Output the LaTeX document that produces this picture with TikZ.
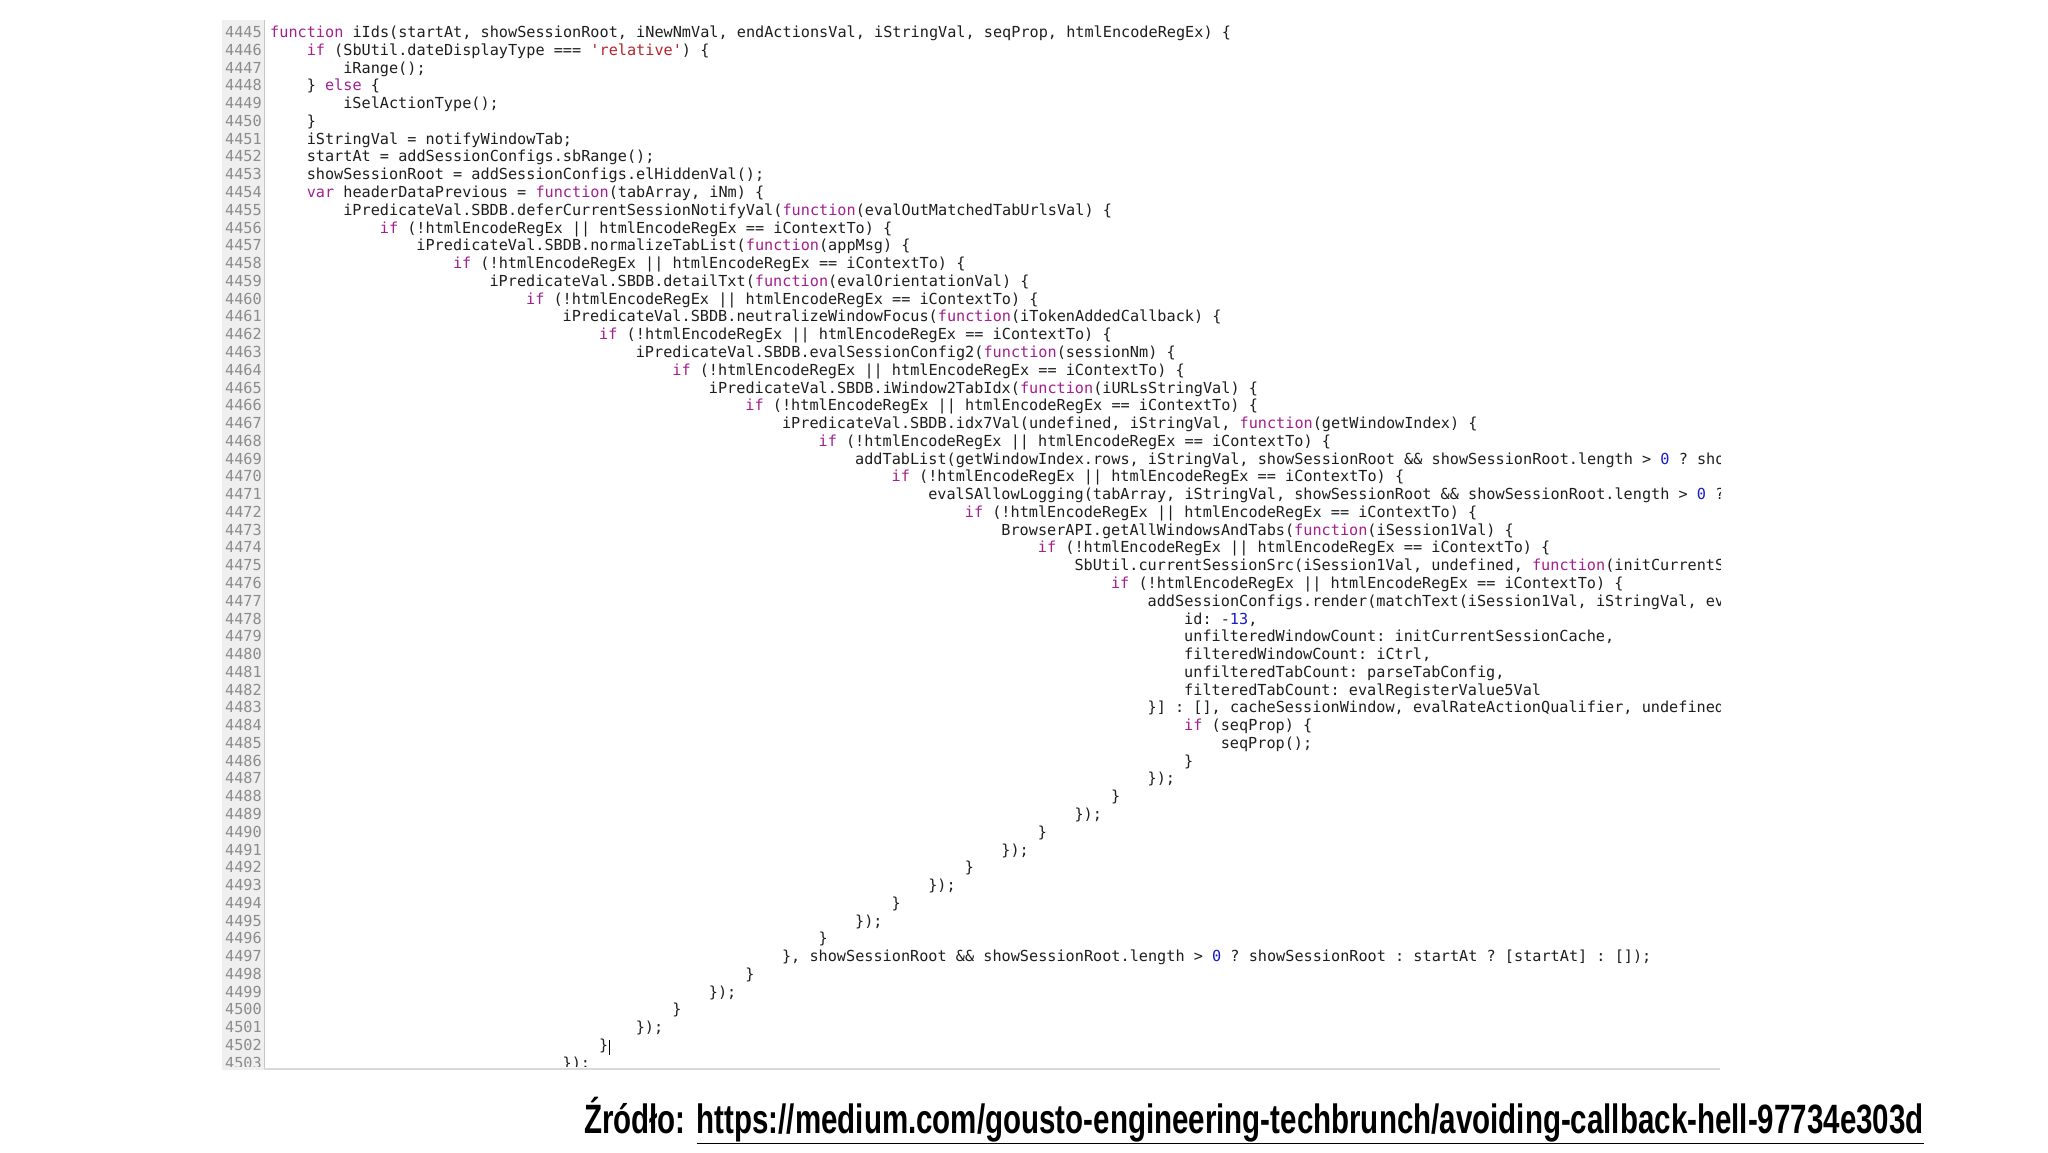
\documentclass[tikz,border=0pt]{standalone}
\usepackage{fontspec}
\setmonofont{DejaVu Sans Mono}
\setsansfont{Liberation Sans}
\definecolor{kw}{HTML}{A3208F}
\definecolor{str}{HTML}{B8242B}
\definecolor{num}{HTML}{1A1AC8}
\definecolor{lnum}{HTML}{8C8C8C}
\definecolor{gut}{HTML}{EFEFEF}
\definecolor{codetxt}{HTML}{1E1E1E}
\newcommand{\Kw}[1]{\textcolor{kw}{#1}}
\newcommand{\Nm}[1]{\textcolor{num}{#1}}
\newcommand{\Str}[1]{\textcolor{str}{#1}}
\newcounter{ln}
\newcommand{\cl}[2]{%
  \pgfmathsetmacro{\yy}{37.6+\value{ln}*17.77}%
  \pgfmathtruncatemacro{\lnn}{4445+\value{ln}}%
  \node[lnumst] (n\lnn) at (262,\yy) {\lnn};
  \node[codest] (c\lnn) at ({270+#1*9.14},\yy) {#2};
  \stepcounter{ln}}
\begin{document}
\begin{tikzpicture}[x=1pt,y=-1pt,
  codest/.style={anchor=base west,inner sep=0pt,font=\ttfamily\fontsize{15.2}{17}\selectfont,text=codetxt},
  lnumst/.style={anchor=base east,inner sep=0pt,font=\ttfamily\fontsize{15.2}{17}\selectfont,text=lnum}]
\useasboundingbox[fill=white] (0,0) rectangle (2048,1152);
\fill[gut] (222,20) rectangle (264,1070);
\draw[gray!45,line width=1pt] (264,20) -- (264,1070);
\draw[gray!30,line width=2pt] (264,1069) -- (1720,1069);
\begin{scope}
\clip (210,15) rectangle (1720,1066);
\cl{0}{\Kw{function} iIds(startAt, showSessionRoot, iNewNmVal, endActionsVal, iStringVal, seqProp, htmlEncodeRegEx) \{}
\cl{4}{\Kw{if} (SbUtil.dateDisplayType === \Str{'relative'}) \{}
\cl{8}{iRange();}
\cl{4}{\} \Kw{else} \{}
\cl{8}{iSelActionType();}
\cl{4}{\}}
\cl{4}{iStringVal = notifyWindowTab;}
\cl{4}{startAt = addSessionConfigs.sbRange();}
\cl{4}{showSessionRoot = addSessionConfigs.elHiddenVal();}
\cl{4}{\Kw{var} headerDataPrevious = \Kw{function}(tabArray, iNm) \{}
\cl{8}{iPredicateVal.SBDB.deferCurrentSessionNotifyVal(\Kw{function}(evalOutMatchedTabUrlsVal) \{}
\cl{12}{\Kw{if} (!htmlEncodeRegEx || htmlEncodeRegEx == iContextTo) \{}
\cl{16}{iPredicateVal.SBDB.normalizeTabList(\Kw{function}(appMsg) \{}
\cl{20}{\Kw{if} (!htmlEncodeRegEx || htmlEncodeRegEx == iContextTo) \{}
\cl{24}{iPredicateVal.SBDB.detailTxt(\Kw{function}(evalOrientationVal) \{}
\cl{28}{\Kw{if} (!htmlEncodeRegEx || htmlEncodeRegEx == iContextTo) \{}
\cl{32}{iPredicateVal.SBDB.neutralizeWindowFocus(\Kw{function}(iTokenAddedCallback) \{}
\cl{36}{\Kw{if} (!htmlEncodeRegEx || htmlEncodeRegEx == iContextTo) \{}
\cl{40}{iPredicateVal.SBDB.evalSessionConfig2(\Kw{function}(sessionNm) \{}
\cl{44}{\Kw{if} (!htmlEncodeRegEx || htmlEncodeRegEx == iContextTo) \{}
\cl{48}{iPredicateVal.SBDB.iWindow2TabIdx(\Kw{function}(iURLsStringVal) \{}
\cl{52}{\Kw{if} (!htmlEncodeRegEx || htmlEncodeRegEx == iContextTo) \{}
\cl{56}{iPredicateVal.SBDB.idx7Val(undefined, iStringVal, \Kw{function}(getWindowIndex) \{}
\cl{60}{\Kw{if} (!htmlEncodeRegEx || htmlEncodeRegEx == iContextTo) \{}
\cl{64}{addTabList(getWindowIndex.rows, iStringVal, showSessionRoot \&\& showSessionRoot.length > \Nm{0} ? showSessionRoot}
\cl{68}{\Kw{if} (!htmlEncodeRegEx || htmlEncodeRegEx == iContextTo) \{}
\cl{72}{evalSAllowLogging(tabArray, iStringVal, showSessionRoot \&\& showSessionRoot.length > \Nm{0} ? showSessionRoot}
\cl{76}{\Kw{if} (!htmlEncodeRegEx || htmlEncodeRegEx == iContextTo) \{}
\cl{80}{BrowserAPI.getAllWindowsAndTabs(\Kw{function}(iSession1Val) \{}
\cl{84}{\Kw{if} (!htmlEncodeRegEx || htmlEncodeRegEx == iContextTo) \{}
\cl{88}{SbUtil.currentSessionSrc(iSession1Val, undefined, \Kw{function}(initCurrentSessionCache}
\cl{92}{\Kw{if} (!htmlEncodeRegEx || htmlEncodeRegEx == iContextTo) \{}
\cl{96}{addSessionConfigs.render(matchText(iSession1Val, iStringVal, evalOutMatchedTabUrlsVal}
\cl{100}{id: -\Nm{13},}
\cl{100}{unfilteredWindowCount: initCurrentSessionCache,}
\cl{100}{filteredWindowCount: iCtrl,}
\cl{100}{unfilteredTabCount: parseTabConfig,}
\cl{100}{filteredTabCount: evalRegisterValue5Val}
\cl{96}{\}] : [], cacheSessionWindow, evalRateActionQualifier, undefined, \Kw{function}}
\cl{100}{\Kw{if} (seqProp) \{}
\cl{104}{seqProp();}
\cl{100}{\}}
\cl{96}{\});}
\cl{92}{\}}
\cl{88}{\});}
\cl{84}{\}}
\cl{80}{\});}
\cl{76}{\}}
\cl{72}{\});}
\cl{68}{\}}
\cl{64}{\});}
\cl{60}{\}}
\cl{56}{\}, showSessionRoot \&\& showSessionRoot.length > \Nm{0} ? showSessionRoot : startAt ? [startAt] : []);}
\cl{52}{\}}
\cl{48}{\});}
\cl{44}{\}}
\cl{40}{\});}
\cl{36}{\}}
\cl{32}{\});}
\end{scope}
\draw[black,line width=0.8pt] (c4502.south east) ++(0.5,2) -- ++(0,-15);
\node[anchor=base west,inner sep=0pt,font=\sffamily\bfseries\fontsize{41}{45}\selectfont,xscale=0.72] (src) at (584,1133)
  {Źródło: \underline{https://medium.com/gousto-engineering-techbrunch/avoiding-callback-hell-97734e303d}};
\end{tikzpicture}
\end{document}
